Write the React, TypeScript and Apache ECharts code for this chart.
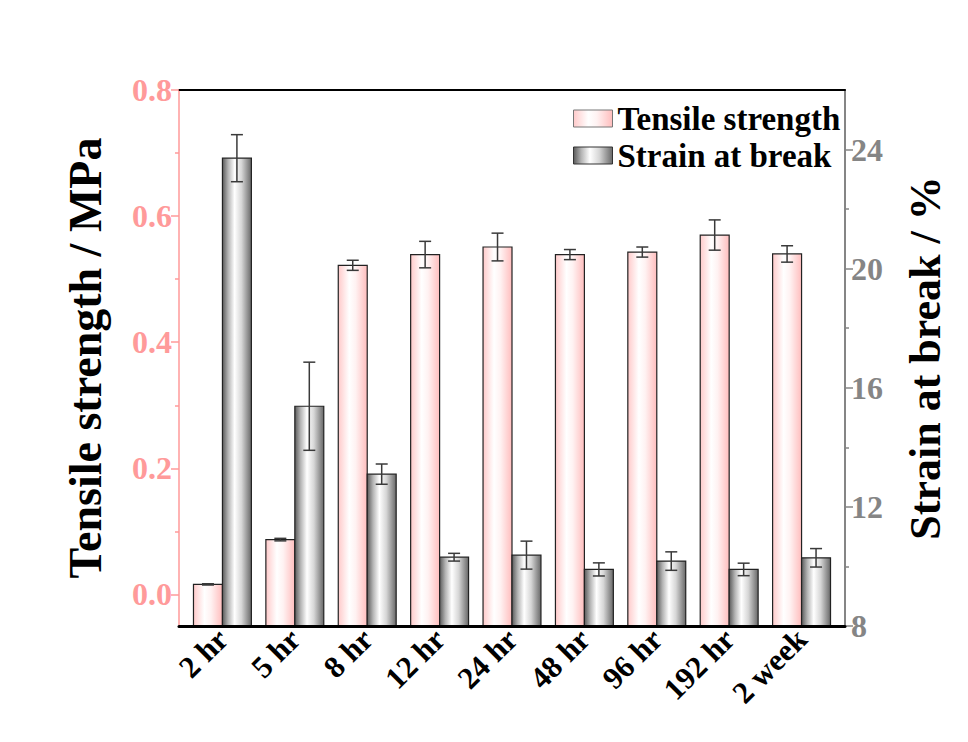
import React, { useEffect, useRef } from "react";
import * as echarts from "echarts";

const categories = ["2 hr", "5 hr", "8 hr", "12 hr", "24 hr", "48 hr", "96 hr", "192 hr", "2 week"];
const tensile = [0.016, 0.087, 0.522, 0.539, 0.551, 0.539, 0.543, 0.57, 0.54];
const tensileErr = [0.001, 0.002, 0.008, 0.021, 0.022, 0.008, 0.008, 0.024, 0.013];
const strain = [23.71, 15.38, 13.1, 10.31, 10.38, 9.9, 10.18, 9.9, 10.29];
const strainErr = [0.79, 1.48, 0.34, 0.13, 0.47, 0.22, 0.31, 0.21, 0.31];
const leftTicks = [0, 0.2, 0.4, 0.6, 0.8];
const leftMinor = [0.1, 0.3, 0.5, 0.7];
const rightTicks = [8, 12, 16, 20, 24];
const rightMinor = [10, 14, 18, 22];

const FONT = "'Liberation Serif', 'Times New Roman', serif";
const PINK = "#ff9a9a";
const GRAY = "#858585";

const pinkFill = new echarts.graphic.LinearGradient(0, 0, 1, 0, [
  { offset: 0, color: "#ffcaca" },
  { offset: 0.38, color: "#ffffff" },
  { offset: 0.6, color: "#fff2f2" },
  { offset: 1, color: "#ffbdbd" },
]);
const grayFill = new echarts.graphic.LinearGradient(0, 0, 1, 0, [
  { offset: 0, color: "#5a5a5a" },
  { offset: 0.2, color: "#b4b4b4" },
  { offset: 0.42, color: "#ffffff" },
  { offset: 0.66, color: "#d6d6d6" },
  { offset: 1, color: "#686868" },
]);

function makeRender(baseVal: number, side: number, fill: any) {
  return (params: any, api: any) => {
    const i = api.value(0);
    const v = api.value(1);
    const e = api.value(2);
    const top = api.coord([i, v]);
    const bottom = api.coord([i, baseVal]);
    const band = api.size([1, 0])[0];
    const w = band * 0.4;
    const x0 = side < 0 ? top[0] - w : top[0];
    const cx = x0 + w / 2;
    const yHi = api.coord([i, v + e])[1];
    const yLo = api.coord([i, v - e])[1];
    const cap = 6;
    const errStyle = { stroke: "#3a3a3a", lineWidth: 1.5 };
    return {
      type: "group",
      children: [
        {
          type: "rect",
          shape: { x: x0, y: top[1], width: w, height: bottom[1] - top[1] },
          style: { fill, stroke: "#222", lineWidth: 1.2 },
        },
        { type: "line", shape: { x1: cx, y1: yHi, x2: cx, y2: yLo }, style: errStyle },
        { type: "line", shape: { x1: cx - cap, y1: yHi, x2: cx + cap, y2: yHi }, style: errStyle },
        { type: "line", shape: { x1: cx - cap, y1: yLo, x2: cx + cap, y2: yLo }, style: errStyle },
      ],
    };
  };
}

export default function App() {
  const ref = useRef<HTMLDivElement>(null);
  useEffect(() => {
    const chart = echarts.init(ref.current!, undefined, { renderer: "svg" });
    const tData = tensile.map((v, i) => [i, v, tensileErr[i]]);
    const sData = strain.map((v, i) => [i, v, strainErr[i]]);
    const option: any = {
      animation: false,
      backgroundColor: "#ffffff",
      grid: { left: 179, right: 123, top: 90, bottom: 116, containLabel: false },
      legend: {
        left: 568,
        top: 97,
        orient: "vertical",
        itemWidth: 39,
        itemHeight: 17,
        itemGap: 4,
        icon: "rect",
        textStyle: { fontFamily: FONT, fontWeight: "bold", fontSize: 33, color: "#000" },
        data: [
          { name: "Tensile strength", itemStyle: { color: pinkFill, borderColor: "#777", borderWidth: 1 } },
          { name: "Strain at break", itemStyle: { color: grayFill, borderColor: "#333", borderWidth: 1 } },
        ],
      },
      xAxis: [
        {
          type: "value",
          position: "bottom",
          min: -0.6,
          max: 8.6,
          splitLine: { show: false },
          axisLine: { show: true, onZero: false, lineStyle: { color: "#000", width: 3 } },
          axisTick: { show: false },
          axisLabel: {
            customValues: categories.map((_, i) => i),
            formatter: (v: number) => categories[Math.round(v)],
            rotate: 45,
            margin: 8,
            fontFamily: FONT,
            fontWeight: "bold",
            fontSize: 31,
            color: "#000",
          },
          z: 5,
        },
        {
          type: "value",
          position: "top",
          min: -0.6,
          max: 8.6,
          splitLine: { show: false },
          axisLine: { show: true, onZero: false, lineStyle: { color: "#000", width: 2 } },
          axisTick: { show: false },
          axisLabel: { show: false },
        },
      ],
      yAxis: [
        {
          type: "value",
          position: "left",
          min: -0.05,
          max: 0.8,
          splitLine: { show: false },
          axisLine: { show: true, onZero: false, lineStyle: { color: PINK, width: 1.5 } },
          axisTick: { show: true, customValues: leftTicks, length: 8, lineStyle: { color: PINK, width: 1.5 } },
          axisLabel: {
            customValues: leftTicks,
            formatter: (v: number) => v.toFixed(1),
            color: PINK,
            fontFamily: FONT,
            fontWeight: "bold",
            fontSize: 32,
            margin: 7,
          },
          name: "Tensile strength / MPa",
          nameLocation: "middle",
          nameRotate: 90,
          nameGap: 71,
          nameTextStyle: { fontFamily: FONT, fontWeight: "bold", fontSize: 46, color: "#000" },
        },
        {
          type: "value",
          position: "right",
          min: 8,
          max: 26,
          splitLine: { show: false },
          axisLine: { show: true, onZero: false, lineStyle: { color: GRAY, width: 2 } },
          axisTick: { show: true, customValues: rightTicks, length: 8, lineStyle: { color: GRAY, width: 1.5 } },
          axisLabel: {
            customValues: rightTicks,
            color: GRAY,
            fontFamily: FONT,
            fontWeight: "bold",
            fontSize: 32,
            margin: 6,
          },
          name: "Strain at break / %",
          nameLocation: "middle",
          nameRotate: 90,
          nameGap: 58,
          nameTextStyle: { fontFamily: FONT, fontWeight: "bold", fontSize: 44, color: "#000" },
        },
        {
          type: "value",
          position: "left",
          min: -0.05,
          max: 0.8,
          splitLine: { show: false },
          axisLine: { show: false, onZero: false },
          axisTick: { show: true, customValues: leftMinor, length: 4, lineStyle: { color: PINK, width: 1.5 } },
          axisLabel: { show: false },
        },
        {
          type: "value",
          position: "right",
          min: 8,
          max: 26,
          splitLine: { show: false },
          axisLine: { show: false, onZero: false },
          axisTick: { show: true, customValues: rightMinor, length: 4, lineStyle: { color: GRAY, width: 1.5 } },
          axisLabel: { show: false },
        },
      ],
      series: [
        {
          name: "Tensile strength",
          type: "custom",
          xAxisIndex: 0,
          yAxisIndex: 0,
          itemStyle: { color: pinkFill },
          encode: { x: 0, y: 1 },
          data: tData,
          renderItem: makeRender(-0.05, -1, pinkFill),
          z: 3,
        },
        {
          name: "Strain at break",
          type: "custom",
          xAxisIndex: 0,
          yAxisIndex: 1,
          itemStyle: { color: grayFill },
          encode: { x: 0, y: 1 },
          data: sData,
          renderItem: makeRender(8, 1, grayFill),
          z: 3,
        },
      ],
    };
    chart.setOption(option);
    return () => chart.dispose();
  }, []);
  return (
    <div
      ref={ref}
      style={{ position: "fixed", left: 0, top: 0, width: 968, height: 742, background: "#fff" }}
    />
  );
}
